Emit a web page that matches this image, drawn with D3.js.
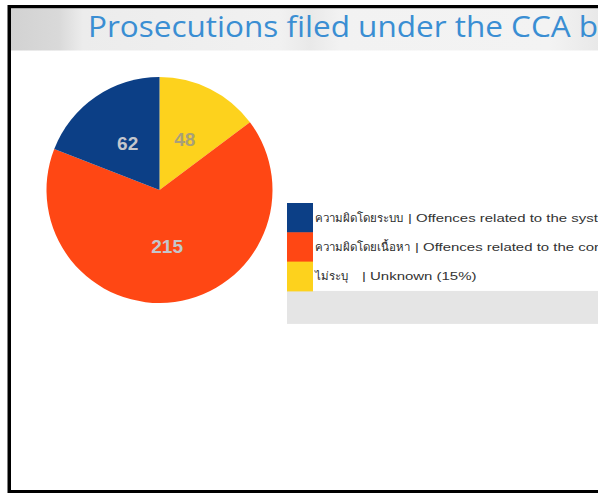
<!DOCTYPE html>
<html>
<head>
<meta charset="utf-8">
<script src="https://cdn.jsdelivr.net/npm/d3@7"></script>
<style>
  body { margin: 0; background: #fff; overflow: hidden; }
  svg { display: block; }
</style>
</head>
<body>
<div id="chart"></div>
<script>
// chart data
const title = "Prosecutions filed under the CCA by offence type";
const categories = [
  "ความผิดโดยระบบ | Offences related to the system (19%)",
  "ความผิดโดยเนื้อหา | Offences related to the content (66%)",
  "ไม่ระบุ  | Unknown (15%)"
];
const values = [62, 215, 48];
const colors = ["#0c3f86", "#ff4714", "#fdd21d"];

const width = 598, height = 493;

const svg = d3.select("#chart").append("svg")
    .attr("width", width)
    .attr("height", height);

// gradient for the title band
const defs = svg.append("defs");
const grad = defs.append("linearGradient").attr("id", "band");
[[0, "#d2d2d2"], [0.08, "#d9d9d9"], [0.12, "#ececec"], [0.45, "#f1f1f1"],
 [0.5, "#e9e9e9"], [0.55, "#f2f2f2"], [0.9, "#f3f3f3"], [1, "#e6e6e6"]]
  .forEach(s => grad.append("stop").attr("offset", s[0]).attr("stop-color", s[1]));

// screenshot frame
svg.append("rect").attr("x", 7.5).attr("y", 5).attr("width", width).attr("height", 488).attr("fill", "#000");
svg.append("rect").attr("x", 11).attr("y", 8.5).attr("width", width).attr("height", 481.5).attr("fill", "#fff");
svg.append("rect").attr("x", 11).attr("y", 8.5).attr("width", width).attr("height", 42).attr("fill", "url(#band)");

// title (runs past the right edge, as in the screenshot)
svg.append("text")
    .attr("transform", "translate(88,37) scale(1.05,1)")
    .attr("fill", "#3a8ed3")
    .style("font-family", "'Open Sans', 'DejaVu Sans', sans-serif")
    .style("font-size", "30px")
    .text(title);

// pie
const cx = 159.5, cy = 190, r = 113;
const order = [2, 1, 0]; // Unknown starts at 12 o'clock, then content, then system
const pie = d3.pie().sort(null).value(i => values[i]);
const arc = d3.arc().innerRadius(0).outerRadius(r);
const arcs = pie(order);

const g = svg.append("g").attr("transform", `translate(${cx},${cy})`);

g.selectAll("path")
  .data(arcs)
  .enter().append("path")
    .attr("d", arc)
    .attr("fill", d => colors[d.data]);

g.selectAll("text")
  .data(arcs)
  .enter().append("text")
    .attr("transform", d => `translate(${arc.centroid(d)})`)
    .attr("text-anchor", "middle")
    .attr("dy", "0.36em")
    .attr("fill", d => d.data === 2 ? "#a8a079" : "#c4c6cc")
    .style("font-family", "'Liberation Sans', Arial, sans-serif")
    .style("font-weight", "bold")
    .style("font-size", "19px")
    .text(d => values[d.data]);

// legend
const lx = 287, ly = 203, rowH = 29.3, sw = 26;
const y = d3.scaleBand().domain(d3.range(categories.length)).range([ly, ly + rowH * categories.length]);

svg.append("rect")
    .attr("x", lx)
    .attr("y", ly + rowH * categories.length)
    .attr("width", width - lx)
    .attr("height", 33)
    .attr("fill", "#e5e5e5");

const legend = svg.append("g");
legend.selectAll("rect")
  .data(categories)
  .enter().append("rect")
    .attr("x", lx)
    .attr("y", (d, i) => y(i))
    .attr("width", sw)
    .attr("height", y.bandwidth() + 0.5)
    .attr("fill", (d, i) => colors[i]);

const rows = legend.selectAll("g.row")
  .data(categories)
  .enter().append("g")
    .attr("class", "row")
    .attr("transform", (d, i) => `translate(${lx + sw + 2},${y(i) + y.bandwidth() / 2 + 4})`);

// Thai part
rows.append("text")
    .attr("class", "th")
    .attr("fill", "#2a2a2a")
    .style("font-family", "'Liberation Sans', Arial, sans-serif")
    .style("font-size", "11.5px")
    .text(d => d.split("|")[0].trim());

// English part, placed after the Thai part
rows.each(function (d) {
  const row = d3.select(this);
  const w = row.select("text.th").node().getComputedTextLength();
  const gap = d.split("|")[0].endsWith("  ") ? 14 : 5;
  row.append("text")
      .attr("transform", `translate(${w + gap},0) scale(1.36,1)`)
      .attr("fill", "#333")
      .style("font-family", "'Liberation Sans', Arial, sans-serif")
      .style("font-size", "11px")
      .text("| " + d.split("|")[1].trim());
});
</script>
</body>
</html>
